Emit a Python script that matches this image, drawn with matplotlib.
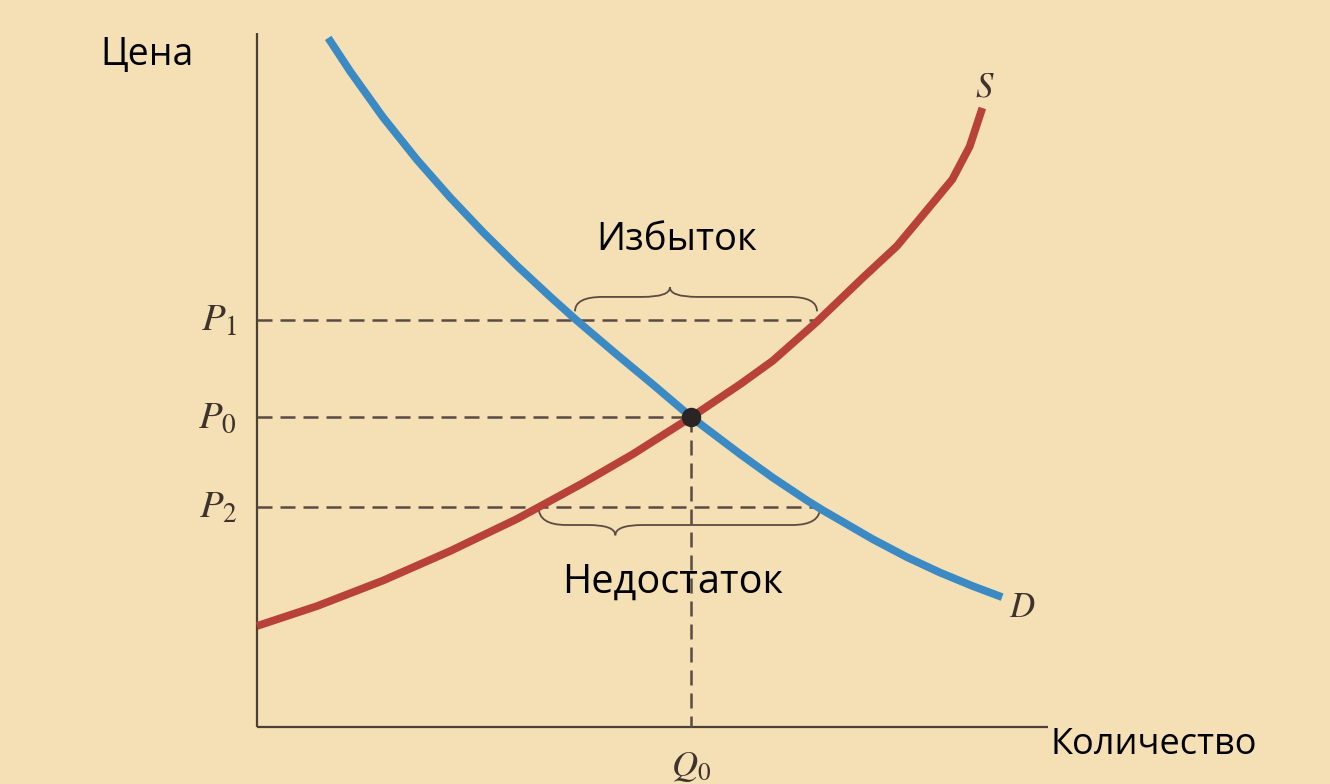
import matplotlib.pyplot as plt
from matplotlib.path import Path
from matplotlib.patches import PathPatch

plt.rcParams['mathtext.fontset'] = 'stix'

# demand curve D (quantity, price)
demand_q = [0.90, 1.18, 1.59, 2.02, 2.44, 2.86, 3.29, 3.71, 4.02, 4.55, 5.00,
            5.49, 6.11, 6.52, 6.95, 7.16, 7.79, 8.22, 8.63, 9.05, 9.42]
demand_p = [10.03, 9.54, 8.88, 8.26, 7.71, 7.20, 6.71, 6.26, 5.94, 5.42, 4.99,
            4.51, 3.97, 3.63, 3.30, 3.15, 2.73, 2.47, 2.25, 2.05, 1.89]

# supply curve S
supply_q = [0.00, 0.76, 1.59, 2.44, 3.29, 4.12, 4.75, 5.49, 6.11, 6.52, 7.08,
            7.66, 8.09, 8.51, 8.79, 9.01, 9.17]
supply_p = [1.47, 1.76, 2.13, 2.56, 3.03, 3.55, 3.97, 4.51, 4.99, 5.33, 5.90,
            6.54, 7.00, 7.58, 7.97, 8.45, 9.01]

# price levels and equilibrium quantity
price_labels = ['$P_1$', '$P_0$', '$P_2$']
price_levels = [5.92, 4.51, 3.20]
q0 = 5.49

# ends of the dashed lines at P1 (surplus) and P2 (shortage)
surplus_q = [4.02, 7.08]
shortage_q = [3.56, 7.12]

bg = '#f5dfb5'
ink = '#5a4b43'
dark = '#3d332d'

fig = plt.figure(figsize=(13.3, 7.84), dpi=100, facecolor=bg)
ax = fig.add_axes([0, 0, 1, 1])
ax.set_facecolor(bg)
ax.set_xlim(-3.249, 13.565)
ax.set_ylim(-0.830, 10.582)
ax.axis('off')

# axes lines
ax.plot([0, 0], [0, 10.1], color='#4a4038', lw=1.6, solid_capstyle='butt')
ax.plot([0, 10.0], [0, 0], color='#4a4038', lw=1.6, solid_capstyle='butt')

# dashed guide lines
dash = (6, 3.2)
ax.plot([0, surplus_q[1]], [price_levels[0]] * 2, color=ink, lw=1.8, dashes=dash)
ax.plot([0, q0], [price_levels[1]] * 2, color=ink, lw=1.8, dashes=dash)
ax.plot([0, shortage_q[1]], [price_levels[2]] * 2, color=ink, lw=1.8, dashes=dash)
ax.plot([q0, q0], [price_levels[1], 0], color=ink, lw=1.8, dashes=dash)

# curves
ax.plot(supply_q, supply_p, color='#b8413a', lw=5.6, solid_capstyle='butt',
        solid_joinstyle='round', zorder=3)
ax.plot(demand_q, demand_p, color='#3b8ac4', lw=5.6, solid_capstyle='butt',
        solid_joinstyle='round', zorder=4)
ax.plot([q0], [price_levels[1]], 'o', color='#2a2522', ms=13, zorder=5)


def brace(x0, x1, xm, yb, yf, yt, r=0.35):
    verts = [(x0, yb), (x0, yf), (x0 + r, yf),
             (xm - r, yf), (xm, yf), (xm, yt),
             (xm, yf), (xm + r, yf),
             (x1 - r, yf), (x1, yf), (x1, yb)]
    codes = [Path.MOVETO, Path.CURVE3, Path.CURVE3,
             Path.LINETO, Path.CURVE3, Path.CURVE3,
             Path.CURVE3, Path.CURVE3,
             Path.LINETO, Path.CURVE3, Path.CURVE3]
    ax.add_patch(PathPatch(Path(verts, codes), fill=False, ec=ink, lw=1.3))


brace(surplus_q[0], surplus_q[1], 5.22, 6.05, 6.26, 6.40)
brace(shortage_q[0], shortage_q[1], 4.53, 3.20, 2.94, 2.79)

# labels
sans = ['Open Sans', 'DejaVu Sans']
ax.text(-1.39, 9.78, 'Цена', family=sans, fontsize=27, ha='center', va='center')
ax.text(10.03, -0.26, 'Количество', family=sans, fontsize=26, ha='left', va='center')
ax.text(5.30, 7.09, 'Избыток', family=sans, fontsize=27.5, ha='center', va='center')
ax.text(5.26, 2.11, 'Недостаток', family=sans, fontsize=28.5, ha='center', va='center')

for lab, p in zip(price_labels, price_levels):
    ax.text(-0.25, p, lab, fontsize=28, color=dark, ha='right', va='center')
ax.text(q0, -0.58, '$Q_0$', fontsize=26, color=dark, ha='center', va='center')
ax.text(9.20, 9.32, '$S$', fontsize=25, color=dark, ha='center', va='center')
ax.text(9.68, 1.75, '$D$', fontsize=25, color=dark, ha='center', va='center')

fig.savefig('out.png', dpi=100, facecolor=bg)
